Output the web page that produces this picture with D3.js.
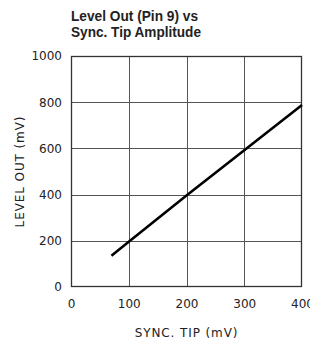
<!DOCTYPE html>
<head>
    <meta charset="UTF-8">
    <title>Level Out vs Sync. Tip Amplitude</title>
</head>
<style>
    body { margin: 0; background: #fff; }
    .title { font-family: "Liberation Sans", Arial, sans-serif; font-weight: bold; font-size: 15.5px; fill: #222; }
    .tick text { font-family: "DejaVu Sans", sans-serif; font-size: 12px; fill: #222; }
    .axis-label { font-family: "DejaVu Sans", sans-serif; font-size: 12px; letter-spacing: 0.9px; fill: #222; }
    .grid line { stroke: #555; stroke-width: 1; }
    .domain { stroke: none; }
</style>
<body>
<script src="https://d3js.org/d3.v7.min.js"></script>
<script>
    // values
    var syncTip = [70, 100, 200, 300, 400];
    var levelOut = [135, 196, 396, 592, 788];
    var xTicks = [0, 100, 200, 300, 400];
    var yTicks = [0, 200, 400, 600, 800, 1000];
    var titleLines = ["Level Out (Pin 9) vs", "Sync. Tip Amplitude"];

    var margin = {top: 56, right: 8, bottom: 58, left: 71},
        width = 310 - margin.left - margin.right,
        height = 345 - margin.top - margin.bottom;

    var x = d3.scaleLinear().domain([0, 400]).range([0, width]);
    var y = d3.scaleLinear().domain([0, 1000]).range([height, 0]);

    var root = d3.select("body").append("svg")
        .attr("width", 310)
        .attr("height", 345);

    // narrow bold title: squeeze glyphs to the width seen in the reference
    root.selectAll(".title")
        .data(titleLines)
        .enter().append("text")
        .attr("class", "title")
        .attr("x", margin.left)
        .attr("y", function(d, i) { return 21 + i * 16; })
        .attr("textLength", function(d, i) { return i ? 130 : 127; })
        .attr("lengthAdjust", "spacingAndGlyphs")
        .text(function(d) { return d; });

    var svg = root.append("g")
        .attr("transform", "translate(" + margin.left + "," + margin.top + ")");

    // grid
    svg.append("g").attr("class", "grid")
        .selectAll("line").data(xTicks.slice(1, -1))
        .enter().append("line")
        .attr("x1", function(d) { return Math.round(x(d)) + 0.5; })
        .attr("x2", function(d) { return Math.round(x(d)) + 0.5; })
        .attr("y1", 0).attr("y2", height);
    svg.append("g").attr("class", "grid")
        .selectAll("line").data(yTicks.slice(1, -1))
        .enter().append("line")
        .attr("y1", function(d) { return Math.round(y(d)) + 0.5; })
        .attr("y2", function(d) { return Math.round(y(d)) + 0.5; })
        .attr("x1", 0).attr("x2", width);

    svg.append("rect")
        .attr("x", 0.5).attr("y", 0.5)
        .attr("width", width - 1).attr("height", height - 1)
        .attr("fill", "none")
        .attr("stroke", "#333")
        .attr("stroke-width", 1.3);

    // axes (labels only)
    svg.append("g")
        .attr("transform", "translate(0," + height + ")")
        .call(d3.axisBottom(x).tickValues(xTicks).tickSize(0).tickPadding(12)
            .tickFormat(d3.format("d")));
    svg.append("g")
        .call(d3.axisLeft(y).tickValues(yTicks).tickSize(0).tickPadding(9)
            .tickFormat(d3.format("d")));

    svg.append("text")
        .attr("class", "axis-label")
        .attr("x", width / 2)
        .attr("y", height + 50)
        .attr("text-anchor", "middle")
        .text("SYNC. TIP (mV)");

    svg.append("text")
        .attr("class", "axis-label")
        .attr("transform", "translate(-47," + (height / 2) + ") rotate(-90)")
        .attr("text-anchor", "middle")
        .text("LEVEL OUT (mV)");

    var line = d3.line()
        .x(function(d, i) { return x(syncTip[i]); })
        .y(function(d) { return y(d); });

    svg.append("path")
        .datum(levelOut)
        .attr("fill", "none")
        .attr("stroke", "#000")
        .attr("stroke-width", 2.6)
        .attr("d", line);
</script>
